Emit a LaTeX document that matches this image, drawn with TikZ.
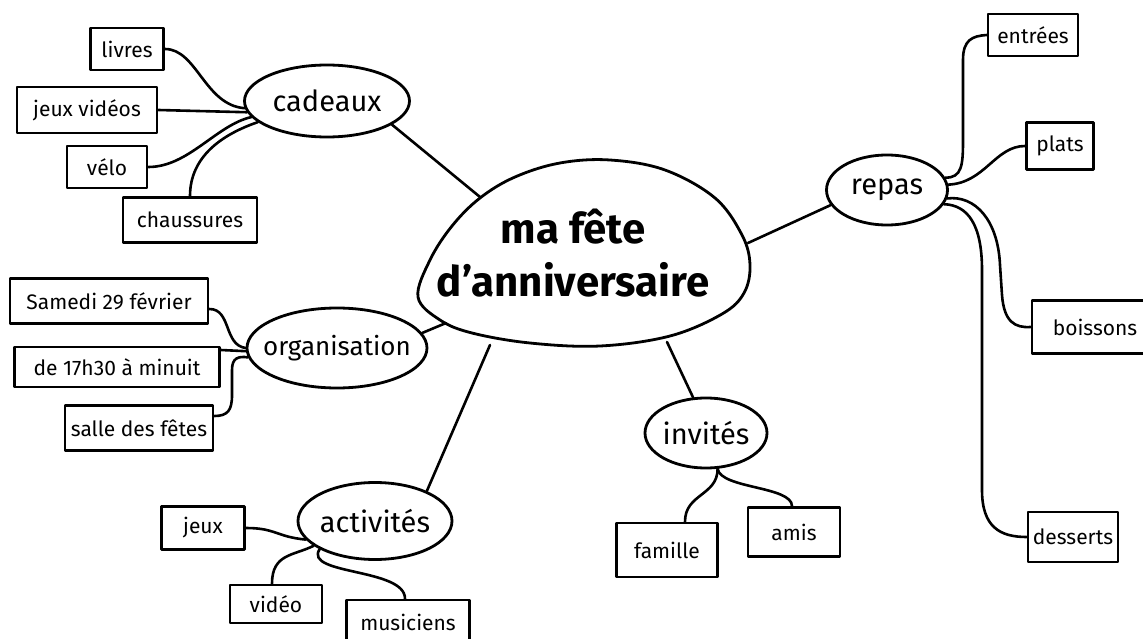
\documentclass[tikz,border=0pt]{standalone}
\usepackage{fontspec}
\setmainfont{Fira Sans}
\usetikzlibrary{shapes.geometric}
\begin{document}
\begin{tikzpicture}[x=1pt,y=-1pt,line width=2.8pt,line cap=round,line join=round,
  box/.style={draw,rectangle,inner sep=0pt,font=\fontsize{21}{21}\selectfont},
  oval/.style={draw,ellipse,inner sep=0pt},
  ovaltext/.style={font=\fontsize{29}{29}\selectfont},
  link/.style={line width=2.6pt}]
\useasboundingbox (0,0) rectangle (1143,639);
\fill[white] (0,0) rectangle (1143,639);

% central egg
\draw plot[smooth cycle,tension=0.6] coordinates {(418,297) (430,260) (452,226) (480,198) (515,177) (560,163) (610,160) (665,170) (715,198) (742,235) (750,265) (744,293) (722,314) (670,336) (600,346) (530,343) (472,333) (440,320)};
\node[font=\fontsize{42}{53}\selectfont\bfseries,align=center,inner sep=0pt] (main) at (573,253) {ma fête\\d'anniversaire};
\coordinate (mA) at (480,197);
\coordinate (mB) at (446,323);
\coordinate (mC) at (490,345);
\coordinate (mD) at (667,342);
\coordinate (mE) at (748,243);

% sub topics
\node[oval,minimum width=165pt,minimum height=72pt,label={[ovaltext]center:cadeaux}] (cadeaux) at (327,101) {};
\node[oval,minimum width=180pt,minimum height=80pt,label={[font=\fontsize{26}{26}\selectfont]center:organisation}] (org) at (337,348) {};
\node[oval,minimum width=154pt,minimum height=77pt,label={[ovaltext]center:activités}] (activ) at (375,521) {};
\node[oval,minimum width=122pt,minimum height=70pt,label={[ovaltext]center:invités}] (invites) at (706,433) {};
\node[oval,minimum width=121pt,minimum height=70pt,label={[ovaltext]center:repas}] (repas) at (887,190) {};

% leaves
\node[box,minimum width=73pt,minimum height=42pt] (livres) at (127,49) {livres};
\node[box,minimum width=140pt,minimum height=46pt] (jv) at (87,110) {jeux vidéos};
\node[box,minimum width=80pt,minimum height=42pt] (velo) at (107,167) {vélo};
\node[box,minimum width=134pt,minimum height=45pt] (chaus) at (190,220) {chaussures};

\node[box,minimum width=198pt,minimum height=45pt] (samedi) at (109,301) {Samedi 29 février};
\node[box,minimum width=205pt,minimum height=40pt] (heure) at (117,367) {de 17h30 à minuit};
\node[box,minimum width=148pt,minimum height=45pt] (salle) at (139,428) {salle des fêtes};

\node[box,minimum width=83pt,minimum height=43pt] (ajeux) at (203,528) {jeux};
\node[box,minimum width=92pt,minimum height=38pt] (video) at (276,604) {vidéo};
\node[box,minimum width=123pt,minimum height=44pt] (mus) at (408,622) {musiciens};

\node[box,minimum width=101pt,minimum height=54pt] (famille) at (667,550) {famille};
\node[box,minimum width=92pt,minimum height=49pt] (amis) at (794,532) {amis};

\node[box,minimum width=90pt,minimum height=42pt] (entrees) at (1033,35) {entrées};
\node[box,minimum width=67pt,minimum height=47pt] (plats) at (1060,146) {plats};
\node[box,minimum width=126pt,minimum height=53pt] (boissons) at (1095,327) {boissons};
\node[box,minimum width=90pt,minimum height=50pt] (desserts) at (1073,537) {desserts};

% main links
\draw[link] (mA) -- (cadeaux.-20);
\draw[link] (mB) -- (org.10);
\draw[link] (mC) -- (activ.30);
\draw[link] (mD) -- (invites.110);
\draw[link] (mE) -- (repas.195);

% cadeaux
\draw[link] (livres.east) .. controls +(32,0) and +(-40,-3) .. (cadeaux.185);
\draw[link] (jv.east) -- (cadeaux.188);
\draw[link] (velo.east) .. controls +(40,0) and +(-35,8) .. (cadeaux.192);
\draw[link] (chaus.north) .. controls +(0,-40) and +(-35,12) .. (cadeaux.197);

% organisation
\draw[link] ([yshift=-8pt]samedi.east) .. controls +(22,0) and +(-22,-3) .. (org.180);
\draw[link] ([yshift=17pt]heure.east) -- (org.182);
\draw[link] ([yshift=12pt]salle.east) .. controls (228,416) and (232,410) .. (232,395) -- (232,370) .. controls (232,358) and (238,356) .. (org.186);

% activites
\draw[link] (ajeux.east) .. controls +(30,0) and +(-30,-3) .. (activ.195);
\draw[link] ([xshift=-4pt]video.north) .. controls +(0,-30) and +(-20,10) .. (activ.202);
\draw[link] (activ.207) .. controls (303,575) and (405,568) .. ([xshift=-3pt]mus.north);

% invites
\draw[link] (invites.-72) .. controls +(0,27) and +(0,-28) .. ([xshift=18pt]famille.north);
\draw[link] (invites.-72) .. controls +(3,20) and +(0,-20) .. ([xshift=-2pt]amis.north);

% repas
\draw[link] (repas.12) .. controls (962,178) and (963,165) .. (963,140) -- (963,60) .. controls (963,40) and (972,36) .. (entrees.west);
\draw[link] (repas.5) .. controls (985,183) and (995,146) .. (plats.west);
\draw[link] (repas.-8) .. controls (975,195) and (998,220) .. (1000,265) -- (1002,295) .. controls (1004,322) and (1015,328) .. (boissons.west);
\draw[link] (repas.-14) .. controls (968,205) and (982,225) .. (982,270) -- (982,490) .. controls (982,527) and (1000,537) .. (desserts.west);
\end{tikzpicture}
\end{document}
